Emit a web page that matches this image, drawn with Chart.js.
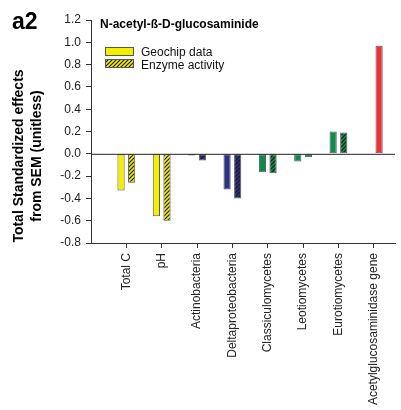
<!DOCTYPE html>
<html>
<head>
<meta charset="utf-8">
<script src="https://cdn.jsdelivr.net/npm/chart.js@4"></script>
<style>
  html, body { margin: 0; padding: 0; background: #fff; }
  #wrap { width: 401px; height: 410px; }
</style>
</head>
<body>
<div id="wrap"><canvas id="chart" width="401" height="410"></canvas></div>
<script>
// categories along the x axis
const categories = ["Total C", "pH", "Actinobacteria", "Deltaproteobacteria",
    "Classiculomycetes", "Leotiomycetes", "Eurotiomycetes", "Acetylglucosaminidase gene"];

// standardized effects
const geochipValues = [-0.33, -0.56, -0.015, -0.32, -0.165, -0.07, 0.20, null];
const enzymeValues = [-0.26, -0.60, -0.06, -0.40, -0.175, -0.03, 0.19, 0.97];

const yTicks = [-0.8, -0.6, -0.4, -0.2, 0.0, 0.2, 0.4, 0.6, 0.8, 1.0, 1.2];

// fill colour per category group
const barColors = ["#f4ef00", "#f4ef00", "#2b3183", "#2b3183",
    "#108a4c", "#108a4c", "#108a4c", "#ec3237"];

const FONT = "'Liberation Sans', Arial, sans-serif";

// diagonal hatch pattern over a base colour
function hatch(base, line) {
    const c = document.createElement("canvas");
    c.width = 4;
    c.height = 4;
    const g = c.getContext("2d");
    g.fillStyle = base;
    g.fillRect(0, 0, 4, 4);
    g.strokeStyle = line;
    g.lineWidth = 1.2;
    g.beginPath();
    g.moveTo(0, 4); g.lineTo(4, 0);
    g.moveTo(-1, 1); g.lineTo(1, -1);
    g.moveTo(3, 5); g.lineTo(5, 3);
    g.stroke();
    return g.createPattern(c, "repeat");
}

const enzymeFills = barColors.map((col, i) => {
    if (i === categories.length - 1) return col; // the gene bar is plain red
    return hatch(col, "#1a1a1a");
});

// x positions 1..n so the axis can hold a little extra space on the right
const geochipPoints = geochipValues.map((v, i) => ({ x: i + 1, y: v }));
const enzymePoints = enzymeValues.map((v, i) => ({ x: i + 1, y: v }));

// draws the panel letter, axis title, panel title, legend and the zero line
const decorations = {
    id: "decorations",
    afterDatasetsDraw(chart) {
        const ctx = chart.ctx;
        const area = chart.chartArea;
        const y0 = chart.scales.y.getPixelForValue(0);
        ctx.save();
        ctx.strokeStyle = "#222";
        ctx.lineWidth = 1;
        ctx.beginPath();
        ctx.moveTo(area.left, y0 + 0.5);
        ctx.lineTo(area.right, y0 + 0.5);
        ctx.stroke();

        ctx.fillStyle = "#000";
        ctx.textBaseline = "alphabetic";
        ctx.font = "bold 23px " + FONT;
        ctx.fillText("a2", 12, 29);

        // y axis title, centred a little below the plot middle like the original
        ctx.save();
        ctx.translate(0, 156);
        ctx.rotate(-Math.PI / 2);
        ctx.textAlign = "center";
        ctx.textBaseline = "middle";
        ctx.font = "bold 14px " + FONT;
        ctx.fillText("Total Standardized effects", 0, 19);
        ctx.fillText("from SEM (unitless)", 0, 37);
        ctx.restore();

        ctx.font = "bold 12px " + FONT;
        ctx.fillText("N-acetyl-ß-D-glucosaminide", 100, 28);

        ctx.font = "12px " + FONT;
        ctx.fillStyle = "#f4ef00";
        ctx.fillRect(105, 47, 28, 8);
        ctx.strokeStyle = "#555";
        ctx.strokeRect(105.5, 47.5, 28, 8);
        ctx.fillStyle = hatch("#f4ef00", "#1a1a1a");
        ctx.fillRect(105, 59, 28, 8);
        ctx.strokeRect(105.5, 59.5, 28, 8);
        ctx.fillStyle = "#111";
        ctx.fillText("Geochip data", 141, 56);
        ctx.fillText("Enzyme activity", 141, 69);
        ctx.restore();
    }
};

new Chart(document.getElementById("chart"), {
    type: "bar",
    data: {
        datasets: [{
            label: "Geochip data",
            data: geochipPoints,
            backgroundColor: barColors,
            borderColor: "#5a5a5a",
            borderWidth: 1,
            borderSkipped: false,
            categoryPercentage: 0.6,
            barPercentage: 0.68
        }, {
            label: "Enzyme activity",
            data: enzymePoints,
            backgroundColor: enzymeFills,
            borderColor: "#5a5a5a",
            borderWidth: 1,
            borderSkipped: false,
            categoryPercentage: 0.6,
            barPercentage: 0.68
        }]
    },
    options: {
        responsive: false,
        animation: false,
        layout: { padding: { left: 0, right: 6, top: 20, bottom: 0 } },
        plugins: { legend: { display: false }, tooltip: { enabled: false } },
        scales: {
            x: {
                type: "linear",
                min: 0,
                max: 8.6,
                offset: false,
                afterBuildTicks: (scale) => {
                    scale.ticks = categories.map((c, i) => ({ value: i + 1 }));
                },
                afterFit: (scale) => { scale.height = 167; },
                ticks: {
                    autoSkip: false,
                    minRotation: 90,
                    maxRotation: 90,
                    padding: 5,
                    color: "#222",
                    font: { family: FONT, size: 12 },
                    callback: (v) => categories[v - 1] || ""
                },
                grid: { offset: false, drawOnChartArea: false, drawTicks: true, tickLength: 5, color: "#333" },
                border: { display: true, color: "#333" }
            },
            y: {
                min: -0.8,
                max: 1.2,
                afterBuildTicks: (scale) => {
                    scale.ticks = yTicks.map((v) => ({ value: v }));
                },
                afterFit: (scale) => { scale.width = 91; },
                ticks: {
                    color: "#222",
                    padding: 5,
                    font: { family: FONT, size: 12 },
                    callback: (v) => v.toFixed(1)
                },
                grid: { drawOnChartArea: false, drawTicks: true, tickLength: 5, color: "#333" },
                border: { display: true, color: "#333" }
            }
        }
    },
    plugins: [decorations]
});
</script>
</body>
</html>
